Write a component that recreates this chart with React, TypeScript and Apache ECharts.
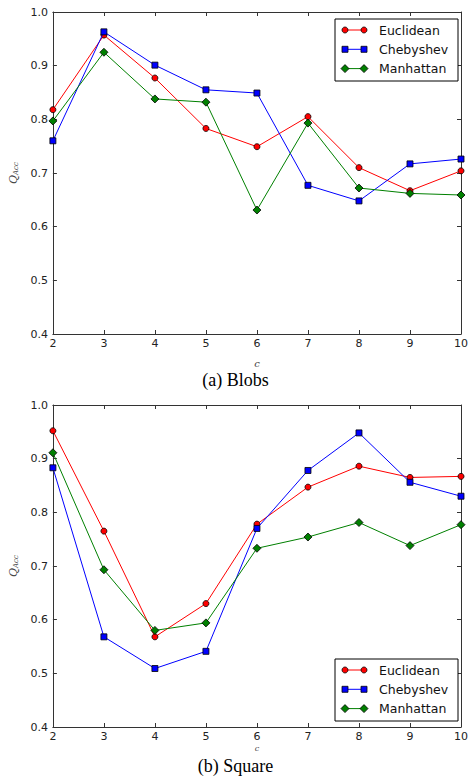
import React, { useEffect, useRef } from "react";
import * as echarts from "echarts";

const cValues = [2, 3, 4, 5, 6, 7, 8, 9, 10];
const seriesNames = ["Euclidean", "Chebyshev", "Manhattan"];
const seriesColors = ["#ff0000", "#0000ff", "#008000"];
const seriesSymbols = ["circle", "rect", "diamond"];
const seriesSymbolSizes = [6, 6, 8];

// (a) Blobs
const blobsEuclidean = [0.818, 0.957, 0.877, 0.783, 0.749, 0.805, 0.71, 0.667, 0.704];
const blobsChebyshev = [0.76, 0.963, 0.901, 0.855, 0.849, 0.677, 0.648, 0.717, 0.726];
const blobsManhattan = [0.797, 0.925, 0.838, 0.832, 0.631, 0.793, 0.672, 0.662, 0.659];

// (b) Square
const squareEuclidean = [0.952, 0.765, 0.568, 0.63, 0.778, 0.847, 0.886, 0.865, 0.867];
const squareChebyshev = [0.883, 0.568, 0.509, 0.541, 0.77, 0.878, 0.948, 0.856, 0.83];
const squareManhattan = [0.911, 0.693, 0.58, 0.594, 0.733, 0.754, 0.781, 0.738, 0.777];

const yTicks = [0.4, 0.5, 0.6, 0.7, 0.8, 0.9, 1.0];
const captions = ["(a) Blobs", "(b) Square"];

const GRID_LEFT = 48;
const GRID_W = 417;
const GRID_H = 322;
const GRID_TOPS = [12, 405];
const LEGEND_TOPS = [19, 659];

const tickFont = { fontFamily: "DejaVu Sans", fontSize: 11, color: "#222" };
const axisLineStyle = { color: "#333", width: 1 };

function legendGraphic(top: number) {
  const children: any[] = [
    {
      type: "rect",
      shape: { x: 335, y: top, width: 123, height: 62 },
      style: { fill: "#fff", stroke: "#000", lineWidth: 1 },
      z: 100,
    },
  ];
  seriesNames.forEach((name, i) => {
    const y = top + 11 + i * 19.3;
    const col = seriesColors[i];
    children.push({
      type: "line",
      shape: { x1: 345, y1: y, x2: 364, y2: y },
      style: { stroke: col, lineWidth: 1 },
      z: 101,
    });
    [345, 364].forEach((x) => {
      if (i === 0) {
        children.push({
          type: "circle",
          shape: { cx: x, cy: y, r: 3 },
          style: { fill: col, stroke: "#000", lineWidth: 0.8 },
          z: 102,
        });
      } else if (i === 1) {
        children.push({
          type: "rect",
          shape: { x: x - 3, y: y - 3, width: 6, height: 6 },
          style: { fill: col, stroke: "#000", lineWidth: 0.8 },
          z: 102,
        });
      } else {
        children.push({
          type: "polygon",
          shape: { points: [[x, y - 4], [x + 4, y], [x, y + 4], [x - 4, y]] },
          style: { fill: col, stroke: "#000", lineWidth: 0.8 },
          z: 102,
        });
      }
    });
    children.push({
      type: "text",
      style: {
        x: 379,
        y,
        text: name,
        fill: "#111",
        font: '12.5px "DejaVu Sans"',
        textVerticalAlign: "middle",
        verticalAlign: "middle",
      },
      z: 103,
    });
  });
  return children;
}

export default function App() {
  const ref = useRef<HTMLDivElement>(null);
  useEffect(() => {
    if (!ref.current) return;
    const chart = echarts.init(ref.current, undefined, { renderer: "svg" });
    const datasets = [
      [blobsEuclidean, blobsChebyshev, blobsManhattan],
      [squareEuclidean, squareChebyshev, squareManhattan],
    ];
    const grids: any[] = [];
    const xAxes: any[] = [];
    const yAxes: any[] = [];
    const series: any[] = [];
    GRID_TOPS.forEach((top, g) => {
      grids.push({ left: GRID_LEFT, top, width: GRID_W, height: GRID_H, show: false });
      xAxes.push({
        type: "value",
        gridIndex: g,
        min: 2,
        max: 10,
        interval: 1,
        position: "bottom",
        name: "c",
        nameLocation: "middle",
        nameGap: g === 0 ? 24 : 17,
        nameTextStyle: {
          fontFamily: "DejaVu Serif",
          fontStyle: "italic",
          fontSize: g === 0 ? 10 : 8,
          color: "#444",
        },
        axisLine: { show: true, onZero: false, lineStyle: axisLineStyle },
        axisTick: { show: true, inside: true, length: 4, lineStyle: axisLineStyle },
        axisLabel: { ...tickFont, margin: 4 },
        splitLine: { show: false },
      });
      xAxes.push({
        type: "value",
        gridIndex: g,
        min: 2,
        max: 10,
        interval: 1,
        position: "top",
        axisLine: { show: true, onZero: false, lineStyle: axisLineStyle },
        axisTick: { show: true, inside: true, length: 4, lineStyle: axisLineStyle },
        axisLabel: { show: false },
        splitLine: { show: false },
      });
      yAxes.push({
        type: "value",
        gridIndex: g,
        min: 0.4,
        max: 1.0,
        interval: 0.1,
        position: "left",
        name: "{q|Q}{s|Acc}",
        nameLocation: "middle",
        nameRotate: 90,
        nameGap: 30,
        nameTextStyle: {
          rich: {
            q: { fontFamily: "DejaVu Serif", fontStyle: "italic", fontSize: 11, color: "#444" },
            s: { fontFamily: "DejaVu Serif", fontStyle: "italic", fontSize: 7, color: "#444", padding: [5, 0, 0, 0] },
          },
        },
        axisLine: { show: true, onZero: false, lineStyle: axisLineStyle },
        axisTick: { show: true, inside: true, length: 4, lineStyle: axisLineStyle },
        axisLabel: {
          ...tickFont,
          margin: 5,
          formatter: (v: number) => {
            const t = yTicks.find((k) => Math.abs(k - v) < 1e-6);
            return t !== undefined ? t.toFixed(1) : "";
          },
        },
        splitLine: { show: false },
      });
      yAxes.push({
        type: "value",
        gridIndex: g,
        min: 0.4,
        max: 1.0,
        interval: 0.1,
        position: "right",
        axisLine: { show: true, onZero: false, lineStyle: axisLineStyle },
        axisTick: { show: true, inside: true, length: 4, lineStyle: axisLineStyle },
        axisLabel: { show: false },
        splitLine: { show: false },
      });
      datasets[g].forEach((vals, i) => {
        series.push({
          type: "line",
          name: seriesNames[i],
          xAxisIndex: g * 2,
          yAxisIndex: g * 2,
          data: cValues.map((c, k) => [c, vals[k]]),
          symbol: seriesSymbols[i],
          symbolSize: seriesSymbolSizes[i],
          showAllSymbol: true,
          clip: false,
          lineStyle: { color: seriesColors[i], width: 1 },
          itemStyle: { color: seriesColors[i], borderColor: "#000", borderWidth: 0.8 },
          z: 3 + i,
        });
      });
    });
    const graphic: any[] = [];
    LEGEND_TOPS.forEach((t) => graphic.push(...legendGraphic(t)));
    graphic.push({
      type: "text",
      left: "center",
      top: 371,
      style: { text: captions[0], font: '18px "Liberation Serif"', fill: "#000" },
    });
    graphic.push({
      type: "text",
      left: "center",
      top: 757,
      style: { text: captions[1], font: '18px "Liberation Serif"', fill: "#000" },
    });
    chart.setOption({
      animation: false,
      backgroundColor: "#fff",
      grid: grids,
      xAxis: xAxes,
      yAxis: yAxes,
      series,
      graphic,
    });
    return () => chart.dispose();
  }, []);
  return (
    <div
      ref={ref}
      style={{ position: "absolute", left: 0, top: 0, width: 471, height: 777 }}
    />
  );
}
